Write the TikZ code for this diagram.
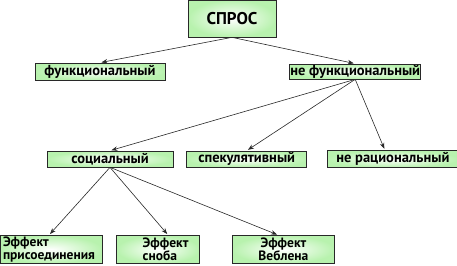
\documentclass[tikz,border=0pt]{standalone}
\usepackage{fontspec}
\setmainfont{PT Sans}
\usetikzlibrary{positioning}
\usetikzlibrary{arrows.meta}
\definecolor{boxgreen}{RGB}{184,242,174}
\definecolor{linegray}{RGB}{40,40,40}
\tikzset{
    demandbox/.style={draw=linegray, line width=0.7pt, shading=radial, inner color=white, outer color=boxgreen, inner sep=0pt, font=\bfseries\fontsize{14.5}{13}\selectfont},
    effectbox/.style={demandbox, minimum height=28pt, font=\bfseries\fontsize{13.5}{12.5}\selectfont},
    link/.style={->, draw=linegray, line width=0.6pt, shorten >=1.5pt}
}

\begin{document}
\begin{tikzpicture}[x=1pt, y=-1pt, >={Stealth[length=6pt,width=4.5pt]}]
    \useasboundingbox (0,0) rectangle (457,265);

    % top
    \node[demandbox, minimum width=88pt, minimum height=37pt, font=\bfseries\fontsize{17}{18}\selectfont] (spros) at (232,18.5) {СПРОС};
    % first level
    \node[demandbox, minimum width=130pt, minimum height=17pt] (func) at (100,71.5) {функциональный};
    \node[demandbox, minimum width=131pt, minimum height=15pt, right=124pt of func] (nonfunc) {не функциональный};
    \draw[link] (spros.south) -- (func.north);
    \draw[link] (spros.south) -- (nonfunc.north);
    % second level
    \node[demandbox, minimum width=126pt, minimum height=16pt] (social) at (110,159) {социальный};
    \node[demandbox, minimum width=120pt, minimum height=16pt, right=13pt of social] (spec) {спекулятивный};
    \node[demandbox, minimum width=131pt, minimum height=17pt, right=20pt of spec] (irrat) {не рациональный};
    \draw[link] (nonfunc.south) -- (social.north);
    \draw[link] (nonfunc.south) -- (spec.north);
    \draw[link] (nonfunc.south) -- ([xshift=-8pt]irrat.north);
    % effects
    \node[effectbox, minimum width=102pt, text width=96pt, align=left] (bandwagon) at (51,249.5) {Эффект\\присоединения};
    \node[effectbox, minimum width=83pt, text width=57pt, align=left, right=14pt of bandwagon] (snob) {\hspace*{13pt}Эффект\\\hspace*{13pt}сноба};
    \node[effectbox, minimum width=102pt, align=center, right=32pt of snob] (veblen) {Эффект\\Веблена};
    \draw[link] (social.south) -- ([xshift=-2pt]bandwagon.north);
    \draw[link] (social.south) -- ([xshift=10pt]snob.north);
    \draw[link] (social.south) -- ([xshift=-5pt]veblen.north);

\end{tikzpicture}
\end{document}
